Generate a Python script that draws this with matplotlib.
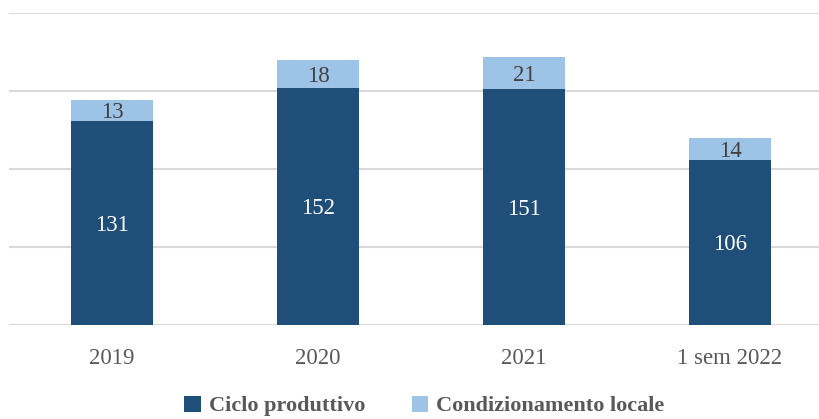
import matplotlib.pyplot as plt
import numpy as np

categories = ['2019', '2020', '2021', '1 sem 2022']
ciclo_produttivo = [131, 152, 151, 106]
condizionamento_locale = [13, 18, 21, 14]

dark = '#1F4E79'
light = '#9DC3E6'
plt.rcParams['font.family'] = ['Liberation Serif', 'DejaVu Serif']

fig = plt.figure(figsize=(8.19, 4.19), dpi=100)
ax = fig.add_axes([9 / 819, 94 / 419, 824 / 819, 312 / 419])

x = np.arange(len(categories))
w = 0.4
b1 = ax.bar(x, ciclo_produttivo, w, color=dark, label='Ciclo produttivo', zorder=3)
b2 = ax.bar(x, condizionamento_locale, w, bottom=ciclo_produttivo, color=light,
            label='Condizionamento locale', zorder=3)

for i in range(len(categories)):
    ax.text(x[i], ciclo_produttivo[i] / 2, str(ciclo_produttivo[i]), ha='center',
            va='center_baseline', color='white', fontsize=16.5)
    ax.text(x[i], ciclo_produttivo[i] + condizionamento_locale[i] / 2, str(condizionamento_locale[i]),
            ha='center', va='center_baseline', color='#404040', fontsize=16.5)

ax.set_xlim(-0.5, 3.5)
ax.set_ylim(0, 200)
ax.set_yticks([0, 50, 100, 150, 200])
ax.yaxis.grid(True, color='#D9D9D9', linewidth=1.5, zorder=0)
ax.tick_params(axis='y', left=False, labelleft=False)
ax.tick_params(axis='x', bottom=False, labelsize=16.5, labelcolor='#595959', pad=13)
ax.set_xticks(x)
ax.set_xticklabels(categories)
for s in ax.spines.values():
    s.set_visible(False)

fig.legend(handles=[b1, b2], loc='center', bbox_to_anchor=(0.518, 0.031), ncol=2, frameon=False,
           handlelength=0.75, handleheight=0.75, handletextpad=0.35, columnspacing=2.1,
           prop={'weight': 'bold', 'size': 16}, labelcolor='#595959')

fig.savefig('out.png', dpi=100)
